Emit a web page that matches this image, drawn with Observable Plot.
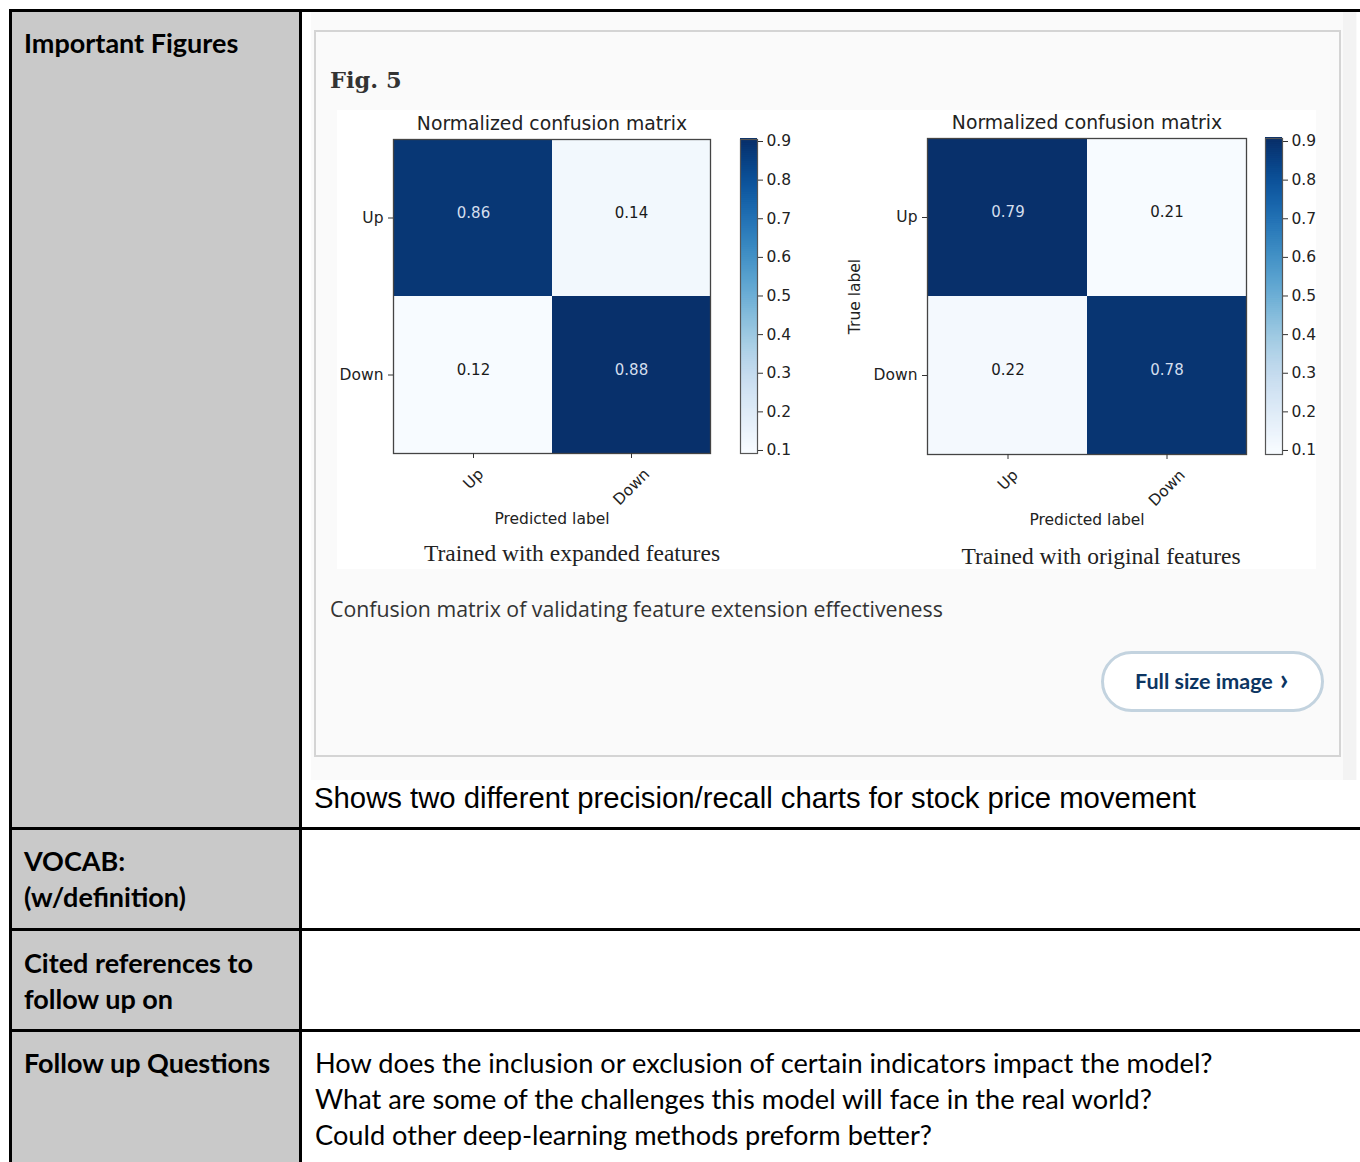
<!DOCTYPE html>
<html>
<head>
<meta charset="utf-8">
<script src="https://cdn.jsdelivr.net/npm/d3@7"></script>
<script src="https://cdn.jsdelivr.net/npm/@observablehq/plot@0.6"></script>
<style>
  html, body { margin: 0; padding: 0; background: #fff; }
  #page { position: relative; width: 1360px; height: 1162px; overflow: hidden; background: #fff; }
</style>
</head>
<body>
<div id="page"></div>
<script>
// ---------------- data ----------------
const trueLabels = ["Up", "Down"];
const predictedLabels = ["Up", "Down"];
const expandedValues = [[0.86, 0.14], [0.12, 0.88]];
const originalValues = [[0.79, 0.21], [0.22, 0.78]];
const colorbarTicks = [0.1, 0.2, 0.3, 0.4, 0.5, 0.6, 0.7, 0.8, 0.9];
const matrixTitle = "Normalized confusion matrix";
const xAxisLabel = "Predicted label";
const yAxisLabel = "True label";
const panelCaptions = ["Trained with expanded features", "Trained with original features"];
const figLabel = "Fig. 5";
const figCaption = "Confusion matrix of validating feature extension effectiveness";
const buttonText = "Full size image";
const buttonChevron = "›";
const figureNote = "Shows two different precision/recall charts for stock price movement";
const rowLabels = [["Important Figures"], ["VOCAB:", "(w/definition)"], ["Cited references to", "follow up on"], ["Follow up Questions"]];
const questions = [
  "How does the inclusion or exclusion of certain indicators impact the model?",
  "What are some of the challenges this model will face in the real world?",
  "Could other deep-learning methods preform better?"
];

const page = document.getElementById("page");

// ---------------- background / table ----------------
const bg = d3.select(page).append("svg")
  .attr("width", 1360).attr("height", 1162)
  .style("position", "absolute").style("left", "0px").style("top", "0px");

bg.append("rect").attr("x", 12).attr("y", 12).attr("width", 287).attr("height", 1150).attr("fill", "#c9c9c9");
// screenshot region
bg.append("rect").attr("x", 311).attr("y", 12).attr("width", 1046).attr("height", 768).attr("fill", "#fafafa");
bg.append("rect").attr("x", 1343).attr("y", 12).attr("width", 13).attr("height", 768).attr("fill", "#f3f3f3");
bg.append("rect").attr("x", 315).attr("y", 31).attr("width", 1025).attr("height", 725)
  .attr("fill", "#fafafa").attr("stroke", "#d4d4d4").attr("stroke-width", 2);
bg.append("rect").attr("x", 337).attr("y", 110).attr("width", 979).attr("height", 459).attr("fill", "#ffffff");

// table lines
const black = "#000";
bg.append("rect").attr("x", 9).attr("y", 9).attr("width", 1351).attr("height", 3).attr("fill", black);
bg.append("rect").attr("x", 9).attr("y", 9).attr("width", 3).attr("height", 1153).attr("fill", black);
bg.append("rect").attr("x", 299).attr("y", 9).attr("width", 3).attr("height", 1153).attr("fill", black);
[827, 928, 1029].forEach(y => bg.append("rect").attr("x", 9).attr("y", y).attr("width", 1351).attr("height", 3).attr("fill", black));

// row label text
const rowBaselines = [[53], [871, 907], [973, 1009], [1073]];
rowLabels.forEach((lines, i) => lines.forEach((t, j) => {
  bg.append("text").attr("x", 24).attr("y", rowBaselines[i][j]).text(t)
    .attr("font-family", "Lato").attr("font-weight", 700).attr("font-size", 27).attr("fill", "#000");
}));
questions.forEach((q, i) => {
  bg.append("text").attr("x", 315).attr("y", 1073 + 36 * i).text(q)
    .attr("font-family", "Lato").attr("font-size", 27.2).attr("fill", "#000");
});

// fig label, caption, button, note
bg.append("text").attr("x", 330).attr("y", 88).text(figLabel)
  .attr("font-family", "DejaVu Serif").attr("font-weight", 700).attr("font-size", 22.5).attr("fill", "#333");
bg.append("text").attr("x", 330).attr("y", 617).text(figCaption)
  .attr("font-family", "Open Sans").attr("font-size", 21.3).attr("fill", "#333");
bg.append("rect").attr("x", 1102.5).attr("y", 652.5).attr("width", 220).attr("height", 58).attr("rx", 29)
  .attr("fill", "#fff").attr("stroke", "#c3d3df").attr("stroke-width", 3);
const btn = bg.append("text").attr("x", 1135).attr("y", 689)
  .attr("font-family", "Lato").attr("font-weight", 700).attr("font-size", 21.5).attr("fill", "#0c3562");
btn.append("tspan").text(buttonText);
btn.append("tspan").attr("dx", 7).attr("font-size", 30).attr("dy", 1).text(buttonChevron);
bg.append("text").attr("x", 314).attr("y", 808).text(figureNote)
  .attr("font-family", "Liberation Sans").attr("font-size", 29.3).attr("fill", "#000");

// panel captions (serif)
const captionPos = [[572, 561], [1101, 564]];
panelCaptions.forEach((c, i) => {
  bg.append("text").attr("x", captionPos[i][0]).attr("y", captionPos[i][1]).text(c)
    .attr("text-anchor", "middle").attr("font-family", "Liberation Serif").attr("font-size", 23.5).attr("fill", "#222");
});

// ---------------- charts ----------------
const FS = 15.5;
const ctx = document.createElement("canvas").getContext("2d");
ctx.font = `${FS}px 'DejaVu Sans'`;

function place(node, left, top) {
  node.style.position = "absolute";
  node.style.left = left + "px";
  node.style.top = top + "px";
  page.appendChild(node);
}

function matrixPlot(values, opts) {
  const data = [];
  trueLabels.forEach((t, i) => predictedLabels.forEach((p, j) => data.push({truth: t, pred: p, value: values[i][j]})));
  const [lo, hi] = d3.extent(data, d => d.value);
  const mid = (lo + hi) / 2;
  const frameBottomOffset = 13;
  const xLabelMarks = predictedLabels.map(label => {
    const w = ctx.measureText(label).width;
    const dy = frameBottomOffset + (w + FS * 0.9) * Math.SQRT1_2 / 2;
    return Plot.text([label], {x: d => d, frameAnchor: "bottom", dy, rotate: -45, textAnchor: "middle", lineAnchor: "middle", fill: "#222"});
  });
  const marks = [
    Plot.cell(data, {x: "pred", y: "truth", fill: "value", inset: 0}),
    Plot.text(data, {filter: d => d.value > mid, x: "pred", y: "truth", dy: -5, text: d => d.value.toFixed(2), fill: "#d3deee", fontSize: 15}),
    Plot.text(data, {filter: d => d.value <= mid, x: "pred", y: "truth", dy: -5, text: d => d.value.toFixed(2), fill: "#1a1a1a", fontSize: 15}),
    Plot.frame({stroke: "#444", strokeWidth: 1.3}),
    Plot.axisY({tickSize: 5, tickPadding: 5, label: null, stroke: "#333", color: "#222"}),
    Plot.axisX({tickSize: 5, tickFormat: () => "", label: null, stroke: "#333"}),
    ...xLabelMarks,
    Plot.text([xAxisLabel], {frameAnchor: "bottom", dy: 66, lineAnchor: "middle", fill: "#222"}),
    Plot.text([matrixTitle], {frameAnchor: "top", dy: -16, lineAnchor: "middle", fontSize: 18.8, fill: "#222"})
  ];
  if (opts.showTrueLabel) marks.push(Plot.text([yAxisLabel], {frameAnchor: "left", dx: -72, rotate: -90, textAnchor: "middle", lineAnchor: "middle", fill: "#222"}));
  return Plot.plot({
    width: opts.width, height: opts.height,
    marginLeft: opts.marginLeft, marginRight: opts.marginRight,
    marginTop: opts.marginTop, marginBottom: opts.marginBottom,
    style: {fontFamily: "DejaVu Sans", fontSize: FS + "px", background: "transparent", overflow: "visible", color: "#222"},
    x: {domain: predictedLabels, padding: 0, axis: null},
    y: {domain: trueLabels, padding: 0, axis: null},
    color: {type: "linear", scheme: "blues", domain: [lo, hi]},
    marks
  });
}

function colorbarPlot(opts) {
  const [lo, hi] = opts.domain;
  const n = 160;
  const strips = d3.range(n).map(i => ({y1: lo + (hi - lo) * i / n, y2: lo + (hi - lo) * (i + 1) / n}));
  return Plot.plot({
    width: opts.width, height: opts.height,
    marginLeft: opts.marginLeft, marginRight: opts.marginRight,
    marginTop: opts.marginTop, marginBottom: opts.marginBottom,
    style: {fontFamily: "DejaVu Sans", fontSize: FS + "px", background: "transparent", overflow: "visible", color: "#222"},
    x: {axis: null, domain: [0, 1]},
    y: {domain: [lo, hi], axis: null},
    color: {type: "linear", scheme: "blues", domain: [colorbarTicks[0], colorbarTicks[colorbarTicks.length - 1]]},
    marks: [
      Plot.rect(strips, {x1: 0, x2: 1, y1: "y1", y2: d => d.y2 + (hi - lo) / n * 0.5, fill: d => (d.y1 + d.y2) / 2}),
      Plot.frame({stroke: "#555", strokeWidth: 1.2}),
      Plot.axisY({anchor: "right", ticks: colorbarTicks, tickSize: 5, tickPadding: 4, tickFormat: d3.format(".1f"), label: null, stroke: "#333", color: "#222"})
    ]
  });
}

place(matrixPlot(expandedValues, {width: 383, height: 460, marginLeft: 56, marginRight: 10, marginTop: 29, marginBottom: 117, showTrueLabel: false}), 337, 110);
place(colorbarPlot({width: 75, height: 460, marginLeft: 10, marginRight: 48, marginTop: 29, marginBottom: 117, domain: [0.0922, 0.9052]}), 730, 110);
place(matrixPlot(originalValues, {width: 416, height: 460, marginLeft: 87, marginRight: 10, marginTop: 28, marginBottom: 116, showTrueLabel: true}), 840, 110);
place(colorbarPlot({width: 75, height: 460, marginLeft: 10, marginRight: 48, marginTop: 28, marginBottom: 116, domain: [0.0896, 0.9078]}), 1255, 110);
</script>
</body>
</html>
